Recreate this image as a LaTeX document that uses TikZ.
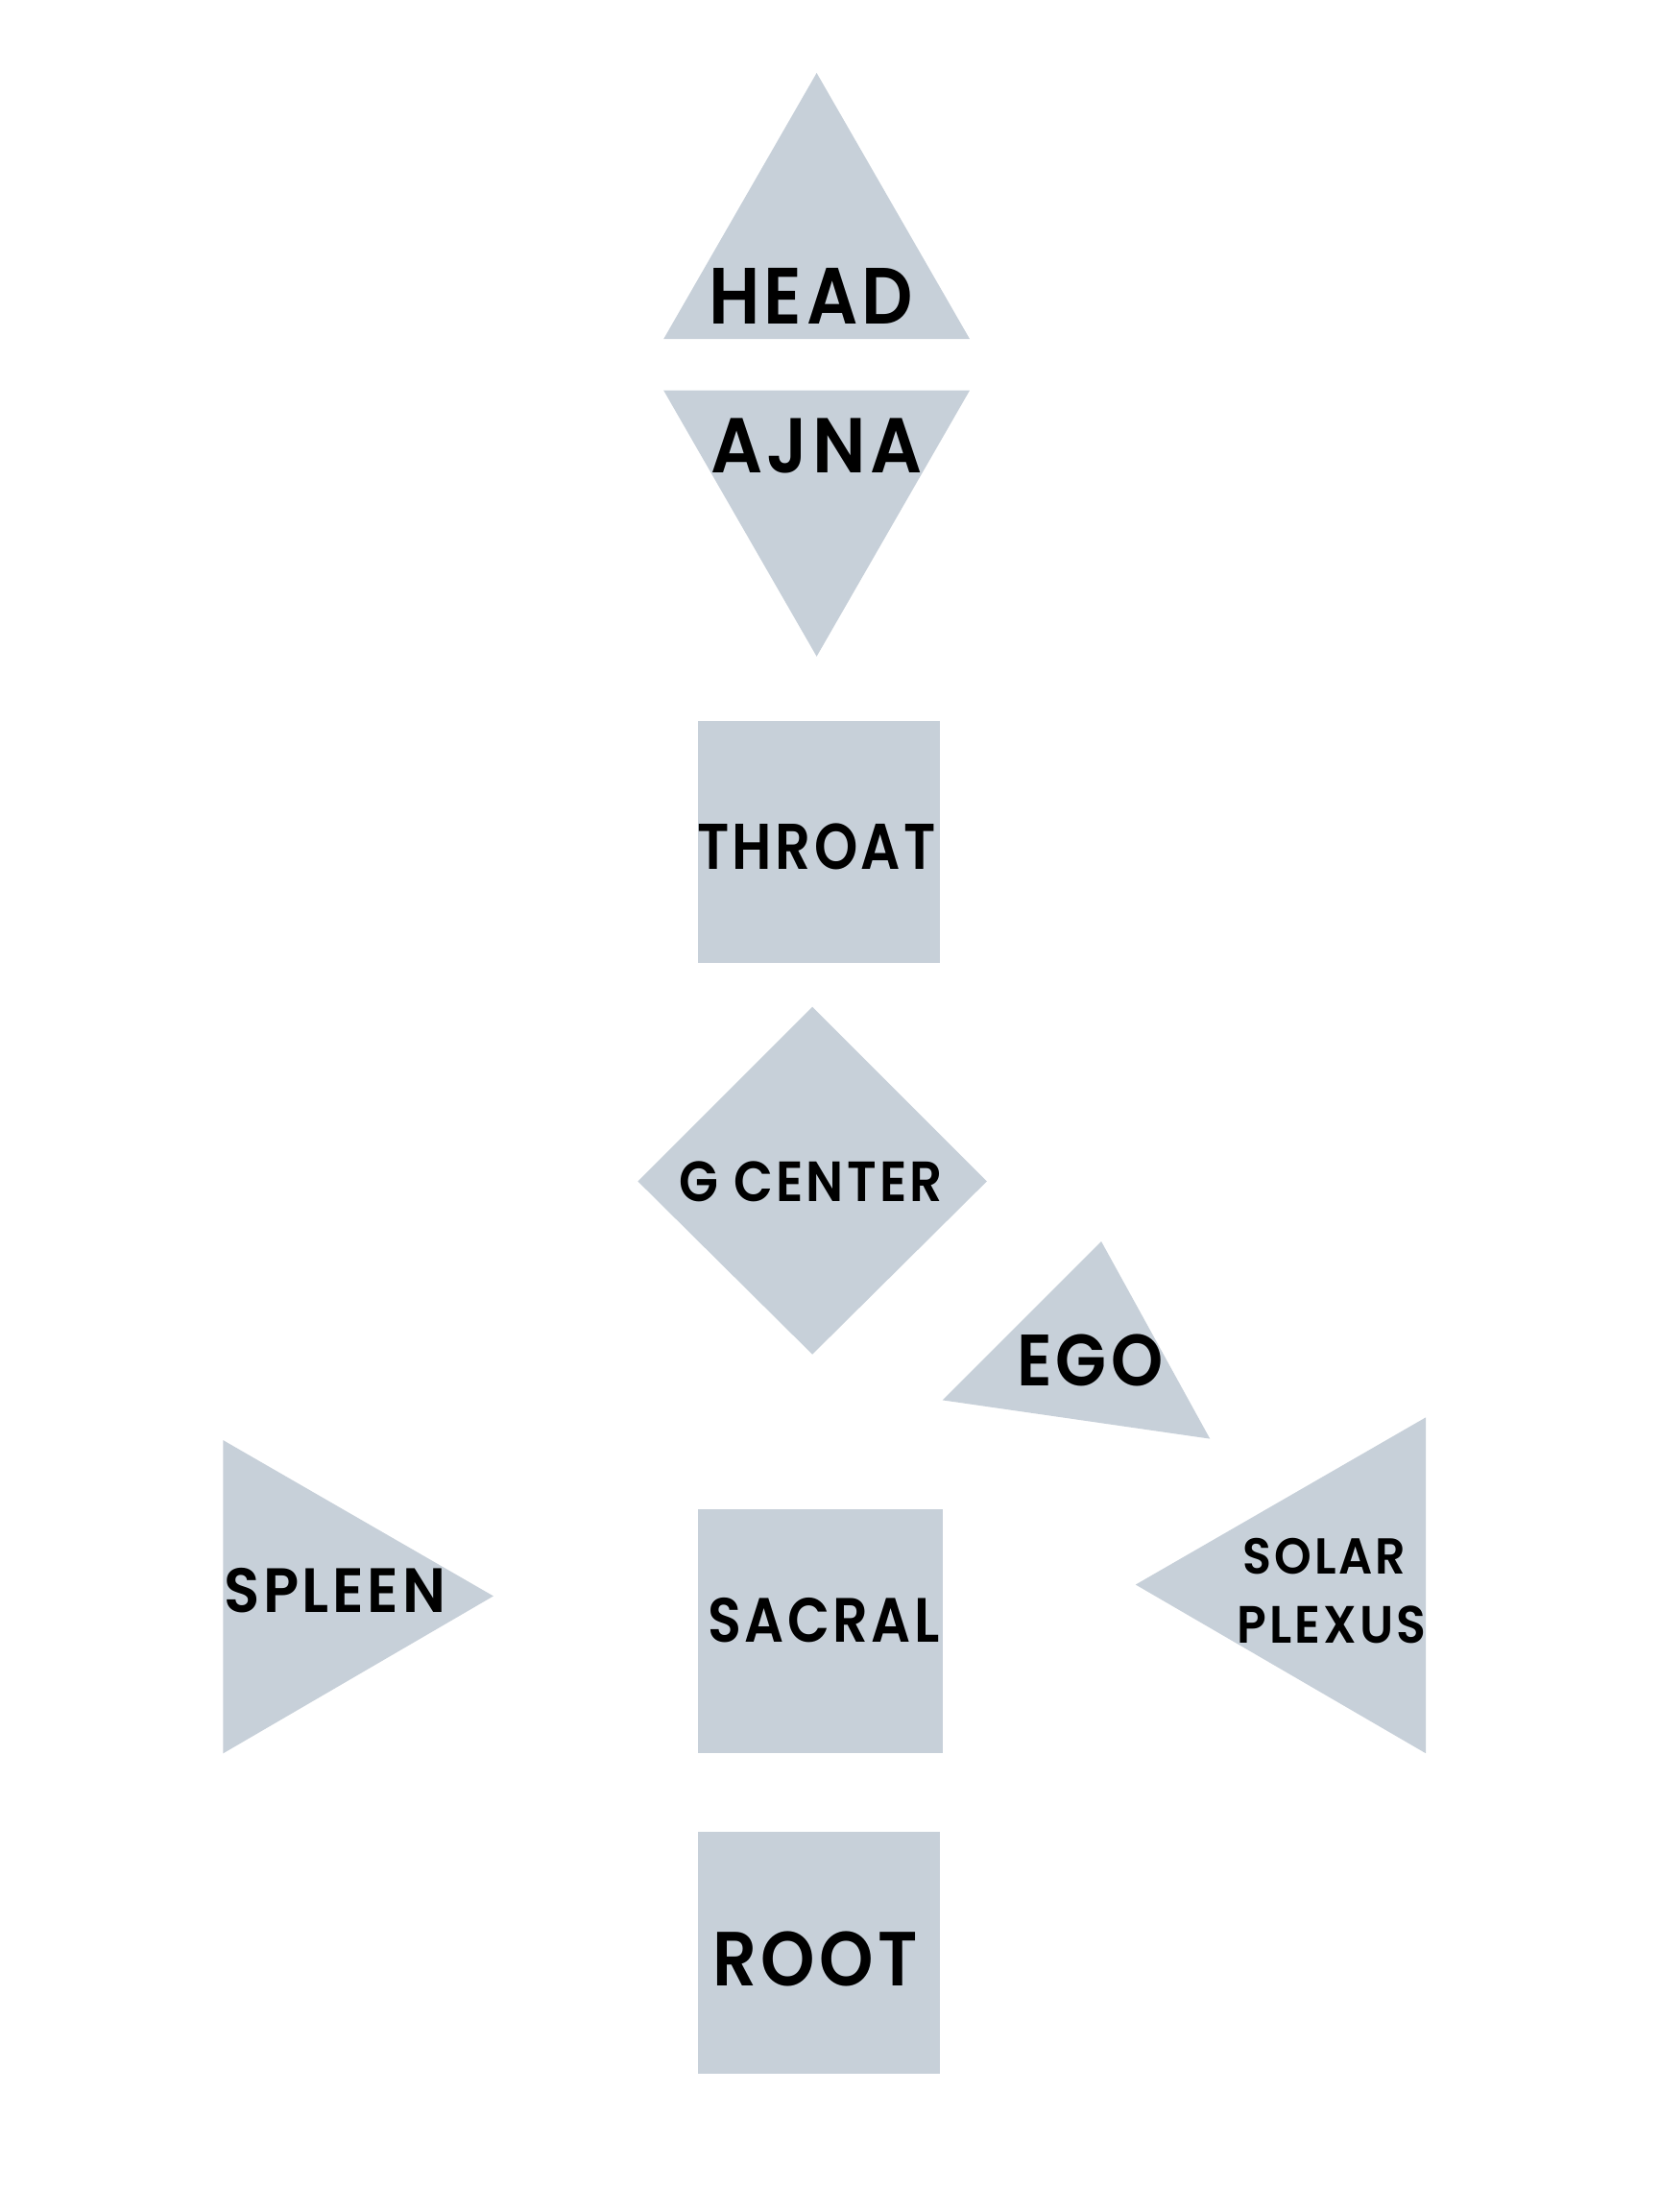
\documentclass[tikz,border=0pt]{standalone}
\usepackage{fontspec}
\usepackage{graphicx}
\setmainfont{Poppins}[UprightFont=* SemiBold, LetterSpace=6]
\definecolor{shapefill}{HTML}{C7D0D9}
\tikzset{
  lbl/.style={inner sep=0pt, text=black, anchor=center},
}
\newcommand{\lab}[3]{\resizebox{#1pt}{#2pt}{\fontsize{40}{44}\selectfont #3}}
\begin{document}
\begin{tikzpicture}[x=1pt,y=-1pt]
\useasboundingbox (0,0) rectangle (1160,1546.67);
% shapes
\fill[shapefill] (571,51) -- (678,237) -- (464,237) -- cycle; % head
\fill[shapefill] (464,273) -- (678,273) -- (571,459) -- cycle; % ajna
\fill[shapefill] (488,504) rectangle (657,673); % throat
\fill[shapefill] (568,704) -- (690,826) -- (568,947) -- (446,826) -- cycle; % g
\fill[shapefill] (770,868) -- (846,1006) -- (659,979) -- cycle; % ego
\fill[shapefill] (156,1007) -- (345,1116) -- (156,1226) -- cycle; % spleen
\fill[shapefill] (488,1055) rectangle (659,1226); % sacral
\fill[shapefill] (997,991) -- (997,1226) -- (794,1108) -- cycle; % solar
\fill[shapefill] (488,1281) rectangle (657,1450); % root
% labels
\node[lbl] (head) at (567,207) {\lab{143}{39}{HEAD}};
\node[lbl] (ajna) at (571,312) {\lab{148}{38}{AJNA}};
\node[lbl] (throat) at (571,592) {\lab{167}{32}{THROAT}};
\node[lbl] (gcenter) at (567,826) {\lab{184}{28}{G CENTER}};
\node[lbl] (ego) at (762,951) {\lab{102}{36}{EGO}};
\node[lbl] (spleen) at (234,1112) {\lab{155}{31}{SPLEEN}};
\node[lbl] (sacral) at (576,1133) {\lab{162}{31}{SACRAL}};
\node[lbl] (solar) at (926,1088) {\lab{114}{25}{SOLAR}};
\node[lbl] (plexus) at (931,1136) {\lab{132}{26}{PLEXUS}};
\node[lbl] (root) at (570,1370) {\lab{143}{38}{ROOT}};
\end{tikzpicture}
\end{document}
